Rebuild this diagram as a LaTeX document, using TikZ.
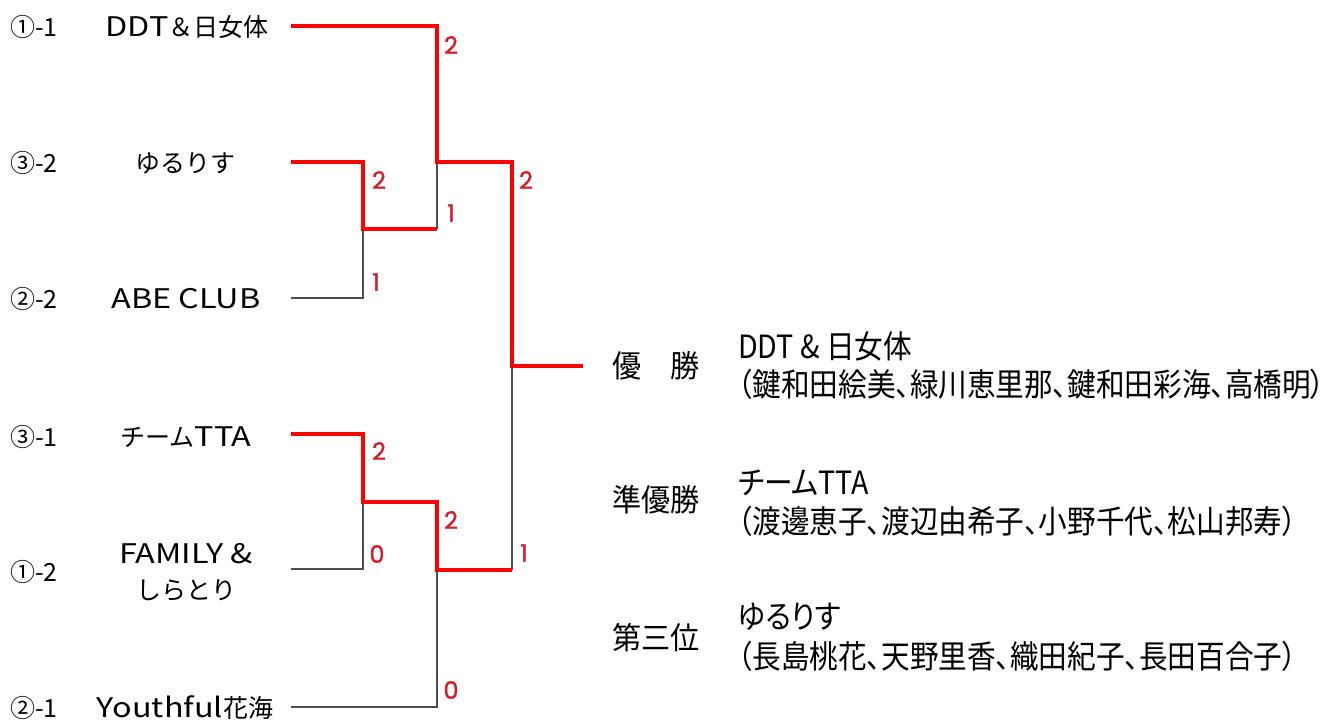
\documentclass[tikz,border=0pt]{standalone}
\usepackage{fontspec}
\setmainfont{Noto Sans CJK JP}
\newfontfamily\jpfont{Noto Sans CJK JP}
\newfontfamily\latfont[FakeStretch=1.2]{Noto Sans CJK JP}
\newfontfamily\rfont[FakeStretch=0.895,RawFeature=+palt]{Noto Sans CJK JP}
\newfontfamily\tfont[FakeStretch=0.94]{Noto Sans CJK JP}
\newfontfamily\numfont[FakeBold=1.2]{Poppins}
\newcommand{\lattext}[1]{{\latfont\fontsize{27}{36}\selectfont #1}}
\definecolor{winred}{HTML}{FF0000}
\definecolor{losegray}{HTML}{4D4D4D}
\definecolor{scorered}{HTML}{D0202E}
\tikzset{
  win/.style={draw=winred, line width=4.5pt, line join=miter},
  lose/.style={draw=losegray, line width=2pt, line join=miter},
  score/.style={text=scorered, font=\numfont\fontsize{24}{24}\selectfont, inner sep=0pt},
  seed/.style={anchor=west, font=\jpfont\fontsize{25}{30}\selectfont, inner sep=0pt},
  team/.style={font=\jpfont\fontsize{25}{36}\selectfont, align=center, inner sep=0pt},
  ranktitle/.style={anchor=west, font=\tfont\fontsize{31}{32}\selectfont, inner sep=0pt},
  rtext/.style={anchor=west, font=\rfont\fontsize{32}{32}\selectfont, inner sep=0pt}
}
\begin{document}
\begin{tikzpicture}[x=1pt,y=-1pt]
\useasboundingbox[fill=white] (0,0) rectangle (1344,721);

% seeds
\node[seed] (s1) at (10,27) {①-1};
\node[seed] (s2) at (10,163) {③-2};
\node[seed] (s3) at (10,299) {②-2};
\node[seed] (s4) at (10,437) {③-1};
\node[seed] (s5) at (10,572) {①-2};
\node[seed] (s6) at (10,708) {②-1};

% teams
\node[team] (t1) at (187,27) {\lattext{DDT}＆日女体};
\node[team] (t2) at (185,163) {ゆるりす};
\node[team] (t3) at (186,299) {\lattext{ABE CLUB}};
\node[team] (t4) at (186,437) {チーム\lattext{TTA}};
\node[team] (t5) at (186,572) {\lattext{FAMILY \&}\\しらとり};
\node[team] (t6) at (185,708) {\lattext{Youthful}花海};

% bracket coordinates
\coordinate (a1) at (291,26);
\coordinate (a2) at (291,162);
\coordinate (a3) at (291,298);
\coordinate (a4) at (291,434);
\coordinate (a5) at (291,569);
\coordinate (a6) at (291,707);
\coordinate (m1) at (363,229);
\coordinate (m2) at (363,502);
\coordinate (q1) at (437,162);
\coordinate (q2) at (437,570);
\coordinate (f) at (512,366);
\coordinate (champ) at (583,366);

% losing lines
\draw[lose] (a3) -| (m1);
\draw[lose] (q1) -- (m1 -| q1);
\draw[lose] (a5) -| (m2);
\draw[lose] (a6) -| (q2);
\draw[lose] (f) -- (q2 -| f);

% winning lines
\draw[win] (a1) -| (q1) -- (q1 -| f) |- (champ);
\draw[win] (a2) -| (m1) -- (m1 -| q1);
\draw[win] (a4) -| (m2) -- (m2 -| q2) -- (q2) -- (q2 -| f);

% scores
\node[score] (c1) at (451,45) {2};
\node[score] (c2) at (379,180) {2};
\node[score] (c3) at (451,213) {1};
\node[score] (c4) at (376,282) {1};
\node[score] (c5) at (526,180) {2};
\node[score] (c6) at (379,451) {2};
\node[score] (c7) at (451,520) {2};
\node[score] (c8) at (377,554) {0};
\node[score] (c9) at (524,553) {1};
\node[score] (c10) at (451,690) {0};

% results
\node[ranktitle] (r1) at (612,366) {優　勝};
\node[ranktitle] (r2) at (612,500) {準優勝};
\node[ranktitle] (r3) at (612,638) {第三位};

\node[rtext] (w1) at (738,346) {DDT \& 日女体};
\node[rtext] (w1m) at (738,384) {（鍵和田絵美、緑川恵里那、鍵和田彩海、高橋明）};
\node[rtext] (w2) at (738,483) {チームTTA};
\node[rtext] (w2m) at (738,521) {（渡邊恵子、渡辺由希子、小野千代、松山邦寿）};
\node[rtext] (w3) at (738,617) {ゆるりす};
\node[rtext] (w3m) at (738,656) {（長島桃花、天野里香、織田紀子、長田百合子）};
\end{tikzpicture}
\end{document}
